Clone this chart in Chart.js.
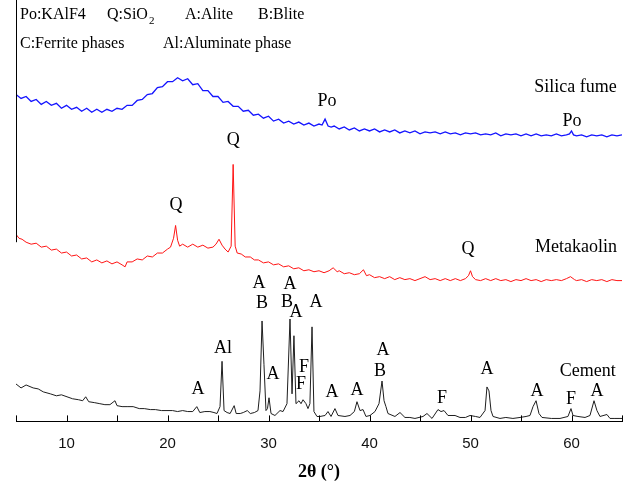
<!DOCTYPE html>
<html>
<head>
    <title>XRD patterns</title>
    <script src="https://cdn.jsdelivr.net/npm/chart.js"></script>
    <style>
        body {
            background-color: white;
            margin: 0;
            padding: 0;
        }
        #xrdChart {
            display: block;
        }
    </style>
</head>
<body>
    <canvas id="xrdChart" width="629" height="487"></canvas>

    <script>
    // 2theta (deg) and offset intensity
    const silicaX = [5.0, 5.5, 6.0, 6.5, 7.0, 7.5, 8.0, 8.5, 9.0, 9.5, 10.0, 10.5, 11.0, 11.5, 12.0, 12.5, 13.0, 13.5, 14.0, 14.5,
        15.0, 15.5, 16.0, 16.5, 17.0, 17.5, 18.0, 18.5, 19.0, 19.5, 20.0, 20.5, 21.0, 21.5, 22.0, 22.5, 23.0, 23.5, 24.0, 24.5,
        25.0, 25.5, 26.0, 26.5, 27.0, 27.5, 28.0, 28.5, 29.0, 29.5, 30.0, 30.5, 31.0, 31.5, 32.0, 32.5, 33.0, 33.5, 34.0, 34.5,
        35.0, 35.3, 35.6, 35.9, 36.2, 36.5, 37.0, 37.5, 38.0, 38.5, 39.0, 39.5, 40.0, 40.5, 41.0, 41.5, 42.0, 42.5, 43.0, 43.5,
        44.0, 44.5, 45.0, 45.5, 46.0, 46.5, 47.0, 47.5, 48.0, 48.5, 49.0, 49.5, 50.0, 50.5, 51.0, 51.5, 52.0, 52.5, 53.0, 53.5,
        54.0, 54.5, 55.0, 55.5, 56.0, 56.5, 57.0, 57.5, 58.0, 58.5, 59.0, 59.5, 59.8, 60.0, 60.2, 60.5, 61.0, 61.5, 62.0, 62.5,
        63.0, 63.5, 64.0, 64.5, 65.0];
    const silicaY = [332, 328, 330, 325, 327, 322, 325, 321, 323, 318, 321, 317, 319, 315, 318, 314, 317, 314, 317, 315,
        318, 317, 321, 321, 326, 327, 332, 333, 339, 340, 345, 345, 349, 346, 348, 342, 343, 336, 336, 330,
        330, 324, 325, 320, 320, 315, 316, 311, 312, 308, 310, 305, 307, 303, 305, 302, 304, 301, 303, 300,
        302, 301, 307, 300, 299, 300, 297, 299, 296, 298, 295, 297, 295, 297, 294, 296, 294, 296, 293, 295,
        293, 295, 292, 294, 293, 294, 292, 294, 292, 293, 291, 293, 292, 293, 291, 292, 291, 293, 290, 292,
        291, 292, 290, 292, 290, 292, 290, 291, 290, 292, 290, 291, 292, 295, 291, 290, 291, 289, 291, 290,
        291, 289, 291, 290, 291];

    const metakaolinX = [5.0, 5.3, 5.6, 6.0, 6.5, 7.0, 7.5, 8.0, 8.5, 9.0, 9.5, 10.0, 10.5, 11.0, 11.5, 12.0, 12.5, 13.0, 13.5, 14.0,
        14.5, 15.0, 15.5, 15.8, 16.0, 16.5, 17.0, 17.5, 18.0, 18.5, 19.0, 19.5, 20.0, 20.3, 20.6, 20.8, 21.0, 21.2, 21.5, 22.0,
        22.5, 23.0, 23.5, 24.0, 24.5, 24.8, 25.1, 25.4, 25.7, 26.0, 26.3, 26.5, 26.7, 26.9, 27.3, 27.7, 28.2, 28.6, 29.0, 29.5,
        30.0, 30.5, 31.0, 31.5, 32.0, 32.5, 33.0, 33.5, 34.0, 34.5, 35.0, 35.5, 36.0, 36.4, 36.8, 37.0, 37.5, 38.0, 38.5, 39.0,
        39.4, 39.7, 40.0, 40.5, 41.0, 41.5, 42.0, 42.5, 43.0, 43.5, 44.0, 44.5, 45.0, 45.5, 46.0, 46.5, 47.0, 47.5, 48.0, 48.5,
        49.0, 49.5, 49.8, 50.0, 50.2, 50.5, 51.0, 51.5, 52.0, 52.5, 53.0, 53.5, 54.0, 54.5, 55.0, 55.5, 56.0, 56.5, 57.0, 57.5,
        58.0, 58.5, 59.0, 59.5, 59.9, 60.3, 60.5, 61.0, 61.5, 62.0, 62.5, 63.0, 63.5, 64.0, 64.5, 65.0];
    const metakaolinY = [190, 186, 185, 182, 180, 181, 177, 178, 174, 175, 171, 172, 168, 169, 165, 166, 162, 164, 161, 163,
        160, 162, 159, 157, 162, 162, 165, 164, 168, 167, 171, 171, 175, 177, 186, 199, 184, 178, 180, 177,
        180, 177, 179, 176, 177, 180, 185, 179, 175, 172, 178, 261, 178, 171, 170, 167, 167, 164, 164, 161,
        162, 159, 160, 157, 158, 155, 156, 153, 154, 152, 153, 151, 153, 156, 152, 153, 150, 151, 149, 150,
        154, 148, 149, 146, 147, 145, 147, 144, 146, 144, 145, 143, 145, 147, 144, 145, 143, 145, 143, 145,
        143, 145, 148, 153, 147, 144, 143, 145, 143, 145, 143, 144, 142, 144, 143, 145, 143, 144, 142, 144,
        143, 144, 143, 145, 147, 144, 143, 144, 142, 144, 143, 144, 142, 144, 143, 143];

    const cementX = [5.0, 5.5, 6.0, 6.7, 7.2, 7.7, 8.4, 9.0, 9.5, 10.05, 10.6, 11.2, 11.6, 11.9, 12.2, 12.8, 13.3, 13.8, 14.3, 14.8,
        15.0, 15.5, 16.0, 16.6, 17.2, 17.7, 18.3, 18.8, 19.4, 19.95, 20.5, 21.0, 21.5, 22.0, 22.5, 22.9, 23.2, 23.7, 24.2, 24.6,
        24.9, 25.2, 25.4, 25.6, 25.9, 26.2, 26.6, 26.8, 27.2, 27.5, 27.9, 28.2, 28.6, 28.96, 29.16, 29.36, 29.55, 29.75, 29.9, 30.05,
        30.25, 30.64, 31.14, 31.44, 31.83, 32.13, 32.33, 32.52, 32.72, 33.02, 33.22, 33.42, 33.71, 33.91, 34.1, 34.31, 34.5, 34.8, 35.1, 35.6,
        35.89, 36.19, 36.58, 36.88, 37.57, 38.07, 38.5, 38.76, 39.06, 39.36, 39.65, 40.05, 40.54, 40.94, 41.24, 41.44, 41.63, 41.83, 42.52, 43.02,
        43.51, 44.0, 44.5, 45.3, 45.69, 46.19, 46.78, 47.08, 47.38, 47.77, 48.47, 48.96, 49.5, 49.95, 50.5, 50.94, 51.44, 51.63, 51.83, 52.03,
        52.23, 52.92, 53.5, 54.2, 54.9, 55.5, 55.89, 56.19, 56.49, 56.78, 57.08, 58.0, 58.86, 59.65, 59.95, 60.15, 60.64, 61.34, 61.83, 62.23,
        62.52, 62.82, 63.51, 63.81, 64.3, 64.8, 65.0];
    const cementY = [38, 34, 37, 34, 33, 30, 28, 26, 27, 25, 23, 22, 21, 25, 20, 19, 18, 17, 17, 21,
        16, 15, 15, 15, 13, 13, 12, 12, 11, 11, 11, 10, 11, 10, 10, 15, 9, 10, 10, 9,
        8, 15, 61, 11, 9, 8, 16, 8, 8, 9, 11, 8, 9, 11, 31, 102, 58, 11, 13, 24,
        8, 6, 11, 10, 18, 104, 28, 87, 18, 21, 18, 22, 18, 13, 18, 96, 10, 5, 5, 6,
        10, 5, 13, 6, 5, 6, 10, 20, 11, 12, 5, 6, 10, 18, 41, 21, 15, 8, 5, 9,
        4, 4, 3, 5, 8, 3, 12, 10, 11, 6, 6, 4, 4, 6, 5, 4, 11, 35, 31, 11,
        5, 3, 4, 3, 4, 5, 6, 15, 21, 8, 4, 3, 3, 5, 13, 6, 5, 4, 6, 21,
        11, 5, 7, 3, 3, 3, 3];

    const xTickLabels = [10, 20, 30, 40, 50, 60];

    // phase markers and sample names
    const peakLabels = [
        { text: 'Po', x: 35.8, y: 325 },
        { text: 'Po', x: 60.05, y: 305 },
        { text: 'Silica fume', x: 60.4, y: 339 },
        { text: 'Q', x: 20.85, y: 220 },
        { text: 'Q', x: 26.5, y: 286 },
        { text: 'Q', x: 49.75, y: 175 },
        { text: 'Metakaolin', x: 60.45, y: 177 },
        { text: 'A', x: 29.06, y: 140 },
        { text: 'B', x: 29.36, y: 120 },
        { text: 'A', x: 32.13, y: 139 },
        { text: 'B', x: 31.83, y: 121 },
        { text: 'A', x: 32.72, y: 111 },
        { text: 'A', x: 34.7, y: 121 },
        { text: 'Al', x: 25.5, y: 74 },
        { text: 'A', x: 23.02, y: 33 },
        { text: 'A', x: 30.45, y: 48 },
        { text: 'F', x: 33.51, y: 55 },
        { text: 'F', x: 33.22, y: 38 },
        { text: 'A', x: 36.29, y: 30 },
        { text: 'A', x: 38.76, y: 32 },
        { text: 'A', x: 41.34, y: 72 },
        { text: 'B', x: 41.04, y: 51 },
        { text: 'F', x: 47.18, y: 24 },
        { text: 'A', x: 51.63, y: 53 },
        { text: 'A', x: 56.58, y: 31 },
        { text: 'F', x: 59.95, y: 22 },
        { text: 'Cement', x: 61.6, y: 51 },
        { text: 'A', x: 62.52, y: 31 }
    ];

    function toPoints(xs, ys) {
        return xs.map((x, i) => ({ x: x, y: ys[i] }));
    }

    const serif = '"Liberation Serif", "Times New Roman", serif';

    // left frame stub, inner ticks, phase key and peak labels
    const decorPlugin = {
        id: 'decor',
        afterDraw(chart) {
            const ctx = chart.ctx;
            const xs = chart.scales.x;
            const ys = chart.scales.y;
            const area = chart.chartArea;
            ctx.save();
            ctx.strokeStyle = '#000';
            ctx.lineWidth = 1;
            ctx.beginPath();
            ctx.moveTo(area.left + 0.5, 0);
            ctx.lineTo(area.left + 0.5, ys.getPixelForValue(182));
            ctx.stroke();

            ctx.beginPath();
            for (let t = 5; t <= 65; t += 5) {
                const px = Math.round(xs.getPixelForValue(t)) + 0.5;
                ctx.moveTo(px, area.bottom);
                ctx.lineTo(px, area.bottom - 6);
            }
            ctx.stroke();

            ctx.fillStyle = '#000';
            ctx.textBaseline = 'middle';
            ctx.textAlign = 'left';
            ctx.font = '16px ' + serif;
            ctx.fillText('Po:KAlF4', 20, 15);
            ctx.fillText('Q:SiO', 107, 15);
            const w = ctx.measureText('Q:SiO').width;
            ctx.font = '11px ' + serif;
            ctx.fillText('2', 107 + w + 1, 21);
            ctx.font = '16px ' + serif;
            ctx.fillText('A:Alite', 185, 15);
            ctx.fillText('B:Blite', 258, 15);
            ctx.fillText('C:Ferrite phases', 20, 44);
            ctx.fillText('Al:Aluminate phase', 163, 44);

            ctx.textAlign = 'center';
            ctx.font = '18px ' + serif;
            peakLabels.forEach(lab => {
                ctx.fillText(lab.text, xs.getPixelForValue(lab.x), ys.getPixelForValue(lab.y));
            });
            ctx.restore();
        }
    };

    new Chart(document.getElementById('xrdChart'), {
        type: 'line',
        data: {
            datasets: [
                {
                    label: 'Silica fume',
                    data: toPoints(silicaX, silicaY),
                    borderColor: 'rgb(20, 20, 255)',
                    borderWidth: 1.3
                },
                {
                    label: 'Metakaolin',
                    data: toPoints(metakaolinX, metakaolinY),
                    borderColor: 'rgb(255, 20, 20)',
                    borderWidth: 1
                },
                {
                    label: 'Cement',
                    data: toPoints(cementX, cementY),
                    borderColor: 'rgb(30, 30, 30)',
                    borderWidth: 1
                }
            ]
        },
        options: {
            responsive: false,
            animation: false,
            devicePixelRatio: 1,
            layout: {
                padding: { left: 16, right: 7, top: 0, bottom: 4 }
            },
            elements: {
                point: { radius: 0 },
                line: { tension: 0 }
            },
            plugins: {
                legend: { display: false },
                tooltip: { enabled: false }
            },
            scales: {
                x: {
                    type: 'linear',
                    min: 5,
                    max: 65,
                    grid: { display: false },
                    border: { display: true, color: '#000', width: 1 },
                    ticks: {
                        stepSize: 5,
                        autoSkip: false,
                        maxRotation: 0,
                        padding: 5,
                        color: '#111',
                        font: { family: '"Liberation Sans", Arial, sans-serif', size: 15 },
                        callback: value => xTickLabels.includes(value) ? String(value) : ''
                    },
                    title: {
                        display: true,
                        text: '2θ (°)',
                        color: '#000',
                        font: { family: serif, size: 18, weight: 'bold' },
                        padding: { top: 4, bottom: 0 }
                    }
                },
                y: {
                    display: false,
                    min: 0,
                    max: 428
                }
            }
        },
        plugins: [decorPlugin]
    });
    </script>
</body>
</html>
